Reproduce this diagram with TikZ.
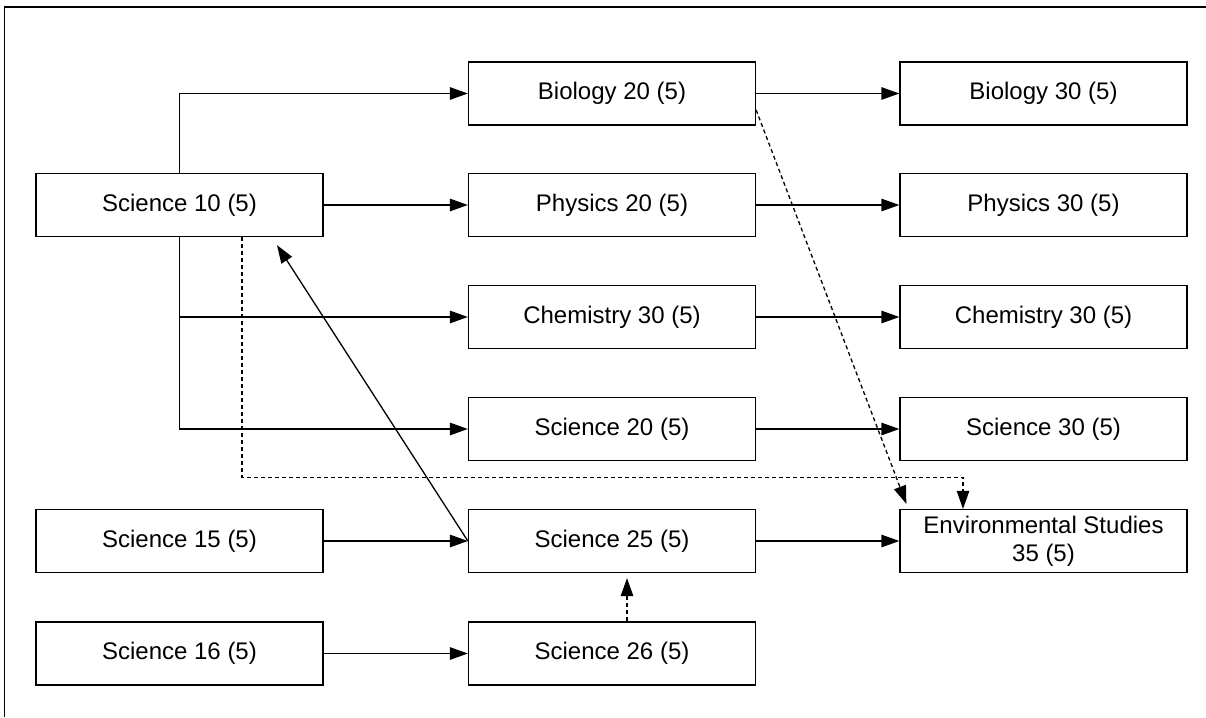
\documentclass[tikz,border=0pt]{standalone}
\usepackage{fontspec}
\setmainfont{Liberation Sans}
\usetikzlibrary{arrows.meta}
\begin{document}
\begin{tikzpicture}[x=1pt,y=-1pt,
  course/.style={draw=black, line width=1.3pt, minimum width=287pt, minimum height=63pt,
    inner sep=0pt, align=center, font=\fontsize{24}{28}\selectfont},
  link/.style={draw=black, line width=1.3pt, -{Triangle[length=18pt,width=12.5pt]}},
  optional/.style={link, dash pattern=on 4pt off 3pt}]
\useasboundingbox (0,0) rectangle (1206,717);
% outer frame edges
\draw[line width=1.3pt] (4.5,717) -- (4.5,7) -- (1206,7);

% first column
\node[course] (s10) at (179.5,205) {Science 10 (5)};
\node[course] (s15) at (179.5,541) {Science 15 (5)};
\node[course] (s16) at (179.5,653.5) {Science 16 (5)};
% second column
\node[course] (bio20) at (612,93.5) {Biology 20 (5)};
\node[course] (phy20) at (612,205) {Physics 20 (5)};
\node[course] (chem20) at (612,317) {Chemistry 30 (5)};
\node[course] (s20) at (612,429) {Science 20 (5)};
\node[course] (s25) at (612,541) {Science 25 (5)};
\node[course] (s26) at (612,653.5) {Science 26 (5)};
% third column
\node[course] (bio30) at (1043.5,93.5) {Biology 30 (5)};
\node[course] (phy30) at (1043.5,205) {Physics 30 (5)};
\node[course] (chem30) at (1043.5,317) {Chemistry 30 (5)};
\node[course] (s30) at (1043.5,429) {Science 30 (5)};
\node[course] (env) at (1043.5,541) {Environmental Studies\\35 (5)};

% branching paths from Science 10
\draw[link] (s10.north) |- (bio20.west);
\draw[link] (s10.east) -- (phy20.west);
\draw[link] (s10.south) |- (chem20.west);
\draw[link] (s10.south) |- (s20.west);

% second to third column
\draw[link] (bio20.east) -- (bio30.west);
\draw[link] (phy20.east) -- (phy30.west);
\draw[link] (chem20.east) -- (chem30.west);
\draw[link] (s20.east) -- (s30.west);
\draw[link] (s25.east) -- (env.west);

% lower rows
\draw[link] (s15.east) -- (s25.west);
\draw[link] (s16.east) -- (s26.west);
\coordinate (s10in) at ([xshift=97.5pt,yshift=-8pt]s10.south);
\draw[link] (s25.west) -- (s10in);

% optional routes
\coordinate (bioout) at ([yshift=-16.5pt]bio20.east);
\coordinate (envin) at ([xshift=7pt,yshift=5pt]env.north west);
\draw[optional] (bioout) -- (envin);
\coordinate (s10out) at ([xshift=62.5pt]s10.south);
\coordinate (envtop) at ([xshift=-80.5pt]env.north);
\draw[optional] (s10out) -- ++(0,240) -| (envtop);
\coordinate (s26out) at ([xshift=15pt]s26.north);
\draw[optional, shorten >=5pt] (s26out) -- (s26out |- s25.south);
\end{tikzpicture}
\end{document}
